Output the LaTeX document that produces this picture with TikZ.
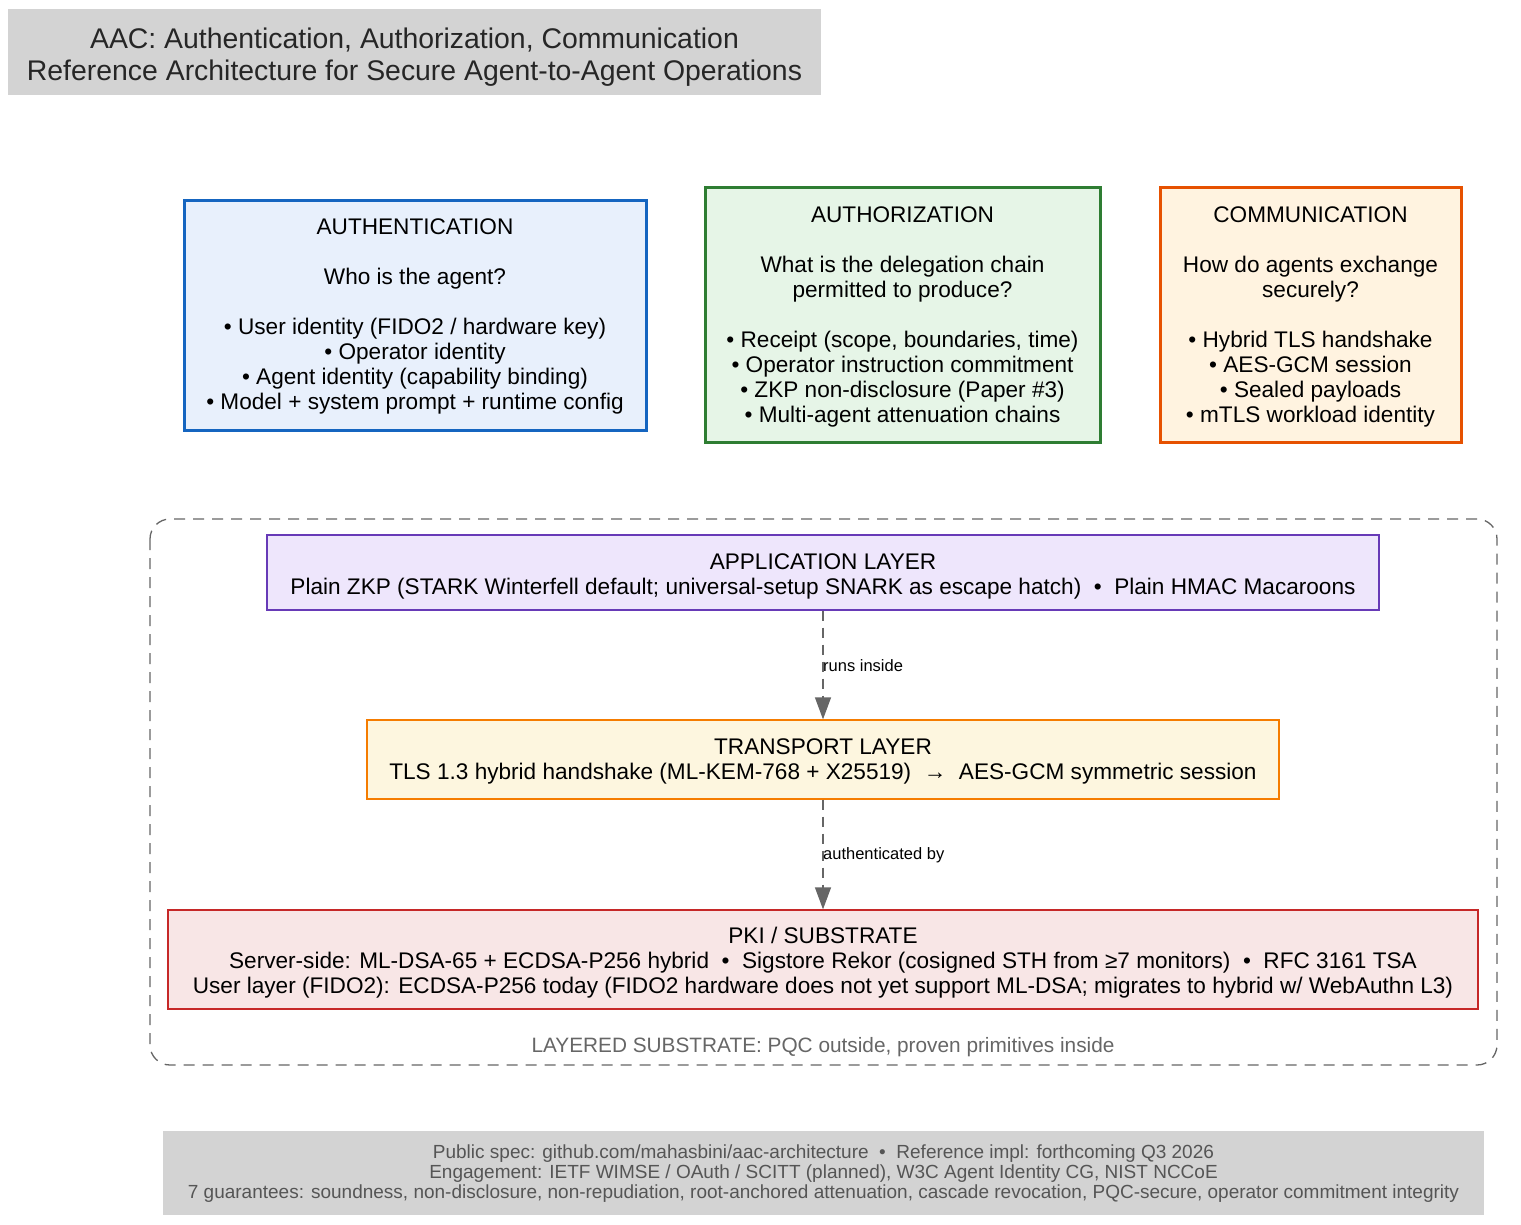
\documentclass[tikz,border=0pt]{standalone}
\usepackage{fontspec}
\setmainfont{Liberation Sans}
\usetikzlibrary{arrows.meta}
\definecolor{titlegray}{HTML}{D3D3D3}
\definecolor{authfill}{HTML}{E8F0FC}
\definecolor{authdraw}{HTML}{1565C0}
\definecolor{authzfill}{HTML}{E6F5E7}
\definecolor{authzdraw}{HTML}{2E7D32}
\definecolor{commfill}{HTML}{FFF3E0}
\definecolor{commdraw}{HTML}{E65100}
\definecolor{appfill}{HTML}{EEE6FC}
\definecolor{appdraw}{HTML}{673AB7}
\definecolor{trfill}{HTML}{FDF6DF}
\definecolor{trdraw}{HTML}{F57C00}
\definecolor{pkifill}{HTML}{F8E6E6}
\definecolor{pkidraw}{HTML}{C62828}
\definecolor{edgegray}{HTML}{666666}
\definecolor{foottext}{HTML}{555555}
\tikzset{
  x=1pt,y=-1pt,
  bodyfont/.style={font=\fontsize{22.6}{25}\selectfont},
  boxtext/.style={bodyfont, align=center, anchor=north},
  pillar/.style={line width=3pt},
  layerbox/.style={line width=1.3pt, align=center, bodyfont},
  edgelabel/.style={font=\fontsize{16.5}{19}\selectfont, anchor=west, inner sep=0pt},
  flow/.style={draw=edgegray, line width=1.3pt, dash pattern=on 10pt off 7pt, -{Triangle[length=22pt,width=16pt]}},
}
\begin{document}
\begin{tikzpicture}
\useasboundingbox (0,0) rectangle (1521,1224);
% title
\fill[titlegray] (8,9) rectangle (821,95);
\node[font=\fontsize{28.4}{32}\selectfont, align=center, text=black!85] (title) at (414.5,57) {AAC: Authentication, Authorization, Communication\\Reference Architecture for Secure Agent-to-Agent Operations};

% pillars
\draw[pillar, draw=authdraw, fill=authfill] (184,200) rectangle (646,430);
\node[boxtext] (authn) at (415,215) {AUTHENTICATION\\[25pt]Who is the agent?\\[25pt]• User identity (FIDO2 / hardware key)\\• Operator identity\\• Agent identity (capability binding)\\• Model + system prompt + runtime config};

\draw[pillar, draw=authzdraw, fill=authzfill] (705,187) rectangle (1100,442);
\node[boxtext] (authz) at (902.5,203) {AUTHORIZATION\\[25pt]What is the delegation chain\\permitted to produce?\\[25pt]• Receipt (scope, boundaries, time)\\• Operator instruction commitment\\• ZKP non-disclosure (Paper \#3)\\• Multi-agent attenuation chains};

\draw[pillar, draw=commdraw, fill=commfill] (1160,187) rectangle (1461,442);
\node[boxtext] (comm) at (1310.5,203) {COMMUNICATION\\[25pt]How do agents exchange\\securely?\\[25pt]• Hybrid TLS handshake\\• AES-GCM session\\• Sealed payloads\\• mTLS workload identity};

% cluster
\draw[draw=edgegray, line width=1.3pt, dash pattern=on 11pt off 8pt, rounded corners=20pt] (150,519) rectangle (1497,1065);
\node[font=\fontsize{20.8}{24}\selectfont, text=edgegray] (clabel) at (823,1047) {LAYERED SUBSTRATE: PQC outside, proven primitives inside};

% layers
\node[layerbox, draw=appdraw, fill=appfill, minimum width=1112pt, minimum height=75pt] (app) at (823,572.5) {};
\node[bodyfont, align=center] (apptext) at (823,576) {APPLICATION LAYER\\Plain ZKP (STARK Winterfell default; universal-setup SNARK as escape hatch) \ • \ Plain HMAC Macaroons};
\node[layerbox, draw=trdraw, fill=trfill, minimum width=912pt, minimum height=79pt] (tr) at (823,759.5) {};
\node[bodyfont, align=center] (trtext) at (823,761) {TRANSPORT LAYER\\TLS 1.3 hybrid handshake (ML-KEM-768 + X25519) \ → \ AES-GCM symmetric session};
\node[layerbox, draw=pkidraw, fill=pkifill, minimum width=1310pt, minimum height=99pt] (pki) at (823,959.5) {};
\node[bodyfont, align=center] (pkitext) at (823,962.5) {PKI / SUBSTRATE\\Server-side: ML-DSA-65 + ECDSA-P256 hybrid \ • \ Sigstore Rekor (cosigned STH from ≥7 monitors) \ • \ RFC 3161 TSA\\User layer (FIDO2): ECDSA-P256 today (FIDO2 hardware does not yet support ML-DSA; migrates to hybrid w/ WebAuthn L3)};

% edges
\draw[flow] (app.south) -- (tr.north);
\node[edgelabel] (l1) at (823,666) {runs inside};
\draw[flow] (tr.south) -- (pki.north);
\node[edgelabel] (l2) at (823,855) {authenticated by};

% footer
\fill[titlegray] (163,1131) rectangle (1484,1215);
\node[font=\fontsize{19}{20}\selectfont, align=center, text=foottext] (foot) at (823.5,1174) {Public spec: github.com/mahasbini/aac-architecture \ • \ Reference impl: forthcoming Q3 2026\\Engagement: IETF WIMSE / OAuth / SCITT (planned), W3C Agent Identity CG, NIST NCCoE\\7 guarantees: soundness, non-disclosure, non-repudiation, root-anchored attenuation, cascade revocation, PQC-secure, operator commitment integrity};
\end{tikzpicture}
\end{document}
